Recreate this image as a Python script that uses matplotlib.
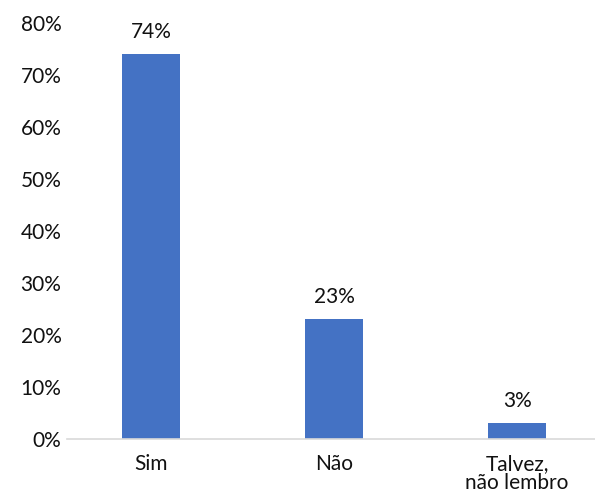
import matplotlib
matplotlib.use('Agg')
import matplotlib.pyplot as plt
from matplotlib.ticker import PercentFormatter

categories = ['Sim', 'Não', 'Talvez,\nnão lembro']
values = [74, 23, 3]
yticks = [0, 10, 20, 30, 40, 50, 60, 70, 80]

plt.rcParams['font.family'] = ['Lato', 'DejaVu Sans']

fig = plt.figure(figsize=(5.95, 4.97), dpi=100)
ax = fig.add_axes([0.1126, 0.1167, 0.8874, 0.837])

x = list(range(len(categories)))
bars = ax.bar(x, values, width=0.317, color='#4472C4')
for b, v in zip(bars, values):
    ax.text(b.get_x() + b.get_width() / 2, v + 2.4, f'{v}%',
            ha='center', va='bottom', fontsize=15, color='#111111')

ax.set_xlim(-0.459, 2.426)
ax.set_ylim(0, 80)
ax.set_yticks(yticks)
ax.yaxis.set_major_formatter(PercentFormatter(decimals=0))
ax.set_xticks(x)
ax.set_xticklabels(categories, linespacing=0.95)

for s in ['top', 'right', 'left']:
    ax.spines[s].set_visible(False)
ax.spines['bottom'].set_color('#D9D9D9')
ax.spines['bottom'].set_linewidth(1.2)
ax.tick_params(axis='both', length=0, labelsize=15, colors='#111111')
ax.tick_params(axis='y', pad=4)
ax.tick_params(axis='x', pad=11)

fig.savefig('out.png', dpi=100)
